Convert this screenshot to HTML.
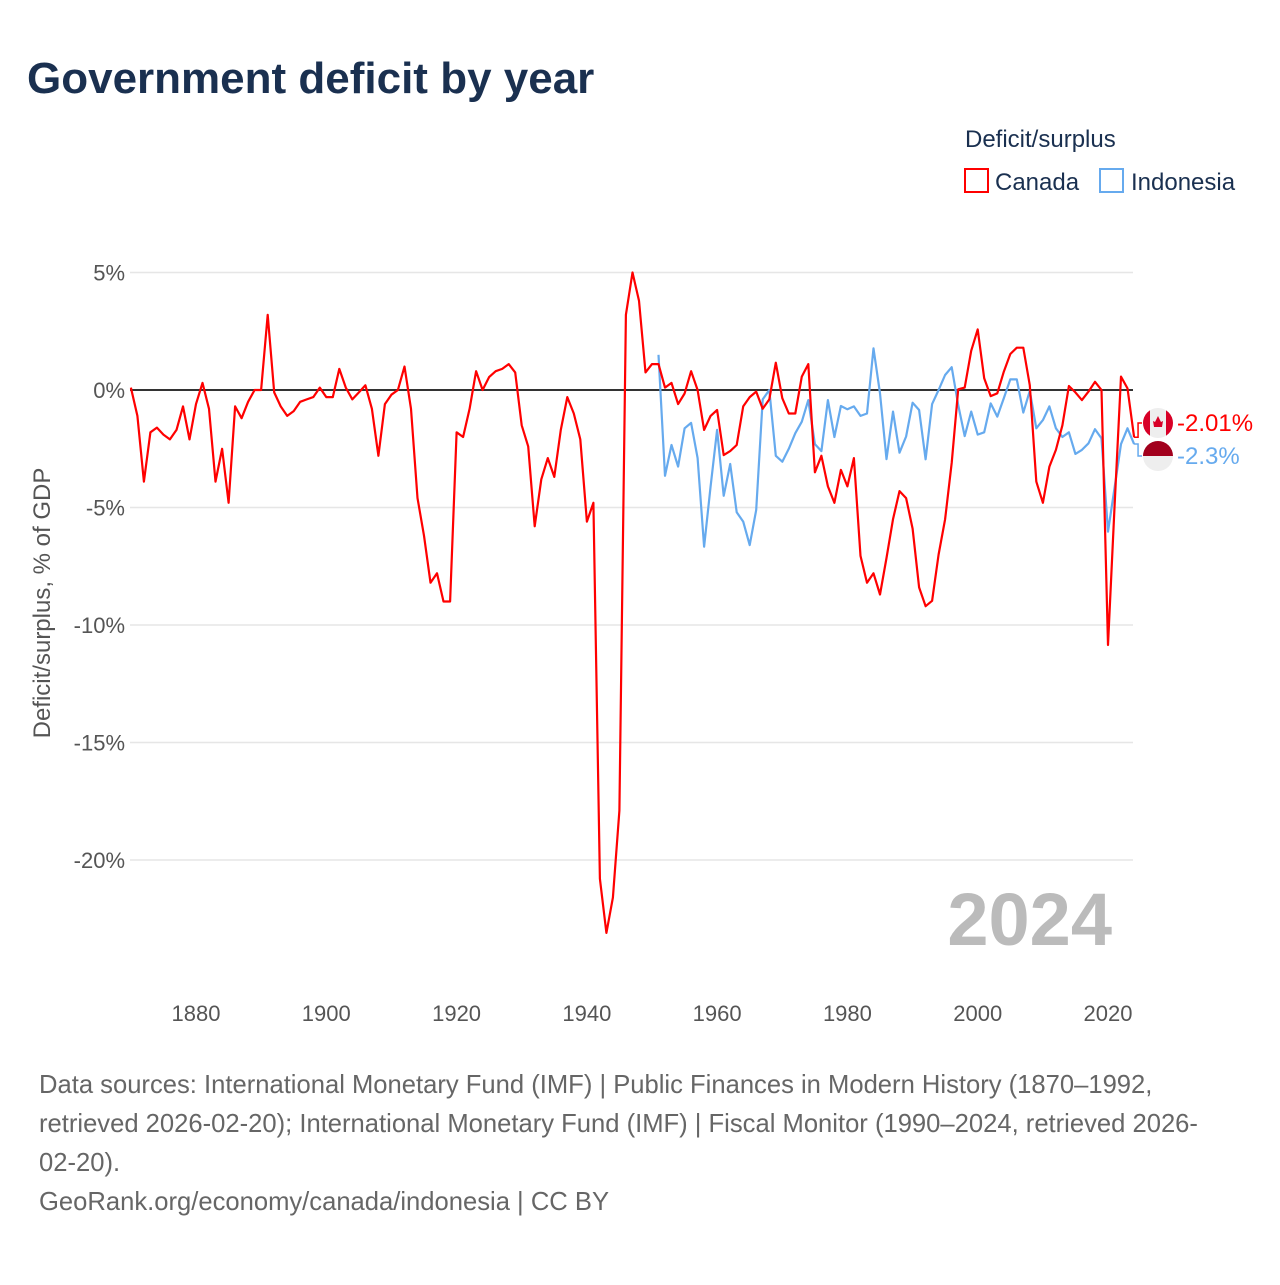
<!DOCTYPE html>
<html><head><meta charset="utf-8"><style>
body{margin:0;background:#fff;font-family:"Liberation Sans",sans-serif}
svg text{font-family:"Liberation Sans",sans-serif}
</style></head><body>
<svg width="1280" height="1280" viewBox="0 0 1280 1280">
<text x="27" y="93" font-size="44" font-weight="bold" fill="#1a3050">Government deficit by year</text>
<g>
<text x="965" y="147" font-size="24" fill="#1a3050">Deficit/surplus</text>
<g><rect x="965" y="169" width="23" height="23" fill="none" stroke="#ff0000" stroke-width="2"/><text x="995" y="190" font-size="24" fill="#1a3050">Canada</text></g>
<g><rect x="1100" y="169" width="23" height="23" fill="none" stroke="#66aaee" stroke-width="2"/><text x="1131" y="190" font-size="24" fill="#1a3050">Indonesia</text></g>
</g>
<g id="grid"></g>
<g id="yticks"></g>
<g id="xticks"></g>
<text transform="translate(50,603) rotate(-90)" text-anchor="middle" font-size="24" fill="#555">Deficit/surplus, % of GDP</text>
<text x="1112" y="945" text-anchor="end" font-size="74" font-weight="bold" fill="#bbb">2024</text>
<g id="series"></g>
<g id="labels"></g>
<g font-size="25.6" fill="#666">
<text x="39" y="1093">Data sources: International Monetary Fund (IMF) | Public Finances in Modern History (1870–1992,</text>
<text x="39" y="1132">retrieved 2026-02-20); International Monetary Fund (IMF) | Fiscal Monitor (1990–2024, retrieved 2026-</text>
<text x="39" y="1171">02-20).</text>
<text x="39" y="1210">GeoRank.org/economy/canada/indonesia | CC BY</text>
</g>
</svg>
<script>
const canadaStart = 1870;
const canadaValues = [0.1,-1.1,-3.9,-1.8,-1.6,-1.9,-2.1,-1.7,-0.7,-2.1,
-0.6,0.3,-0.8,-3.9,-2.5,-4.8,-0.7,-1.2,-0.5,0,
0,3.2,-0.1,-0.7,-1.1,-0.9,-0.5,-0.4,-0.3,0.1,
-0.3,-0.3,0.9,0.1,-0.4,-0.1,0.2,-0.8,-2.8,-0.6,
-0.2,0,1.0,-0.8,-4.6,-6.2,-8.2,-7.8,-9.0,-9.0,
-1.8,-2.0,-0.8,0.8,0,0.55,0.8,0.9,1.1,0.75,
-1.5,-2.4,-5.8,-3.8,-2.9,-3.7,-1.7,-0.3,-1.0,-2.1,
-5.6,-4.8,-20.8,-23.1,-21.6,-17.9,3.2,5.0,3.8,0.75,
1.1,1.1,0.1,0.3,-0.6,-0.15,0.8,0,-1.7,-1.1,
-0.85,-2.77,-2.6,-2.34,-0.7,-0.3,-0.07,-0.8,-0.4,1.16,
-0.35,-1.0,-1.0,0.57,1.1,-3.5,-2.8,-4.1,-4.8,-3.4,
-4.1,-2.9,-7.06,-8.2,-7.8,-8.7,-7.15,-5.5,-4.3,-4.6,
-5.9,-8.4,-9.2,-8.97,-7.0,-5.5,-3.1,0.03,0.1,1.67,
2.58,0.5,-0.26,-0.14,0.78,1.53,1.8,1.8,0.2,-3.9,
-4.8,-3.26,-2.55,-1.5,0.17,-0.1,-0.43,-0.07,0.35,0,
-10.85,-5,0.57,0.07,-2.01];
const indonesiaStart = 1951;
const indonesiaValues = [1.5,-3.65,-2.34,-3.26,-1.63,-1.4,-2.9,-6.67,-4.1,
-1.7,-4.5,-3.15,-5.2,-5.6,-6.6,-5.1,-0.4,0,-2.8,
-3.05,-2.5,-1.84,-1.35,-0.43,-2.3,-2.6,-0.43,-2.0,-0.68,
-0.82,-0.7,-1.1,-1.0,1.77,-0.14,-2.94,-0.92,-2.67,-1.98,
-0.54,-0.85,-2.95,-0.6,0,0.64,0.97,-0.64,-1.96,-0.92,
-1.9,-1.8,-0.57,-1.13,-0.35,0.45,0.45,-0.96,-0.04,-1.63,
-1.28,-0.7,-1.63,-2.0,-1.8,-2.72,-2.55,-2.27,-1.67,-2.06,
-6.03,-4.18,-2.3,-1.63,-2.3];
const yTicks = [5,0,-5,-10,-15,-20];
const xTicks = [1880,1900,1920,1940,1960,1980,2000,2020];
const endLabels = ["-2.01%","-2.3%"];

const NS="http://www.w3.org/2000/svg";
const X0=130,X1=1133;
function xs(yr){return 196+(yr-1880)*(912/140);}
function ys(v){return 390-v*23.5;}
function mk(t,a,p){const e=document.createElementNS(NS,t);for(const k in a)e.setAttribute(k,a[k]);p.appendChild(e);return e;}
const grid=document.getElementById('grid'),yt=document.getElementById('yticks'),xt=document.getElementById('xticks');
yTicks.forEach(v=>{
 if(v!==0){const l=mk('line',{x1:X0,x2:X1,y1:ys(v),y2:ys(v),stroke:'#e6e6e6','stroke-width':1.5},grid);
 
 }
 const t=mk('text',{x:125,y:ys(v)+8,'text-anchor':'end','font-size':22,fill:'#555'},yt);
 t.textContent=v+'%';
 
 
});
xTicks.forEach(yr=>{
 const t=mk('text',{x:xs(yr),y:1021,'text-anchor':'middle','font-size':22,fill:'#555'},xt);
 t.textContent=yr;
 
 
});
const zl=mk('line',{x1:X0,x2:X1,y1:ys(0),y2:ys(0),stroke:'#333','stroke-width':2},grid);


const ser=document.getElementById('series');
function line(start,vals,col,name){
 const d=vals.map((v,i)=>(i?'L':'M')+xs(start+i).toFixed(1)+','+ys(v).toFixed(1)).join('');
 const p=mk('path',{d:d,fill:'none',stroke:col,'stroke-width':2.2,'stroke-linejoin':'round'},ser);
 
 
}
line(indonesiaStart,indonesiaValues,'#66aaee','indonesia-line');
line(canadaStart,canadaValues,'#ff0000','canada-line');
const lab=document.getElementById('labels');
const cEnd=ys(canadaValues[canadaValues.length-1]),iEnd=ys(indonesiaValues[indonesiaValues.length-1]);
const lx=xs(2024);
mk('path',{d:`M${lx},${cEnd}L${lx+4},${cEnd}L${lx+4},423L1142,423`,fill:'none',stroke:'#ff0000','stroke-width':1.5},lab);
mk('path',{d:`M${lx},${iEnd}L${lx+4},${iEnd}L${lx+4},456L1142,456`,fill:'none',stroke:'#66aaee','stroke-width':1.5},lab);
const cf=mk('g',{},lab);


mk('clipPath',{id:'cc'},cf);
mk('circle',{cx:1158,cy:423,r:15},document.getElementById('cc'));
const cg=mk('g',{'clip-path':'url(#cc)'},cf);
mk('rect',{x:1143,y:408,width:30,height:30,fill:'#eee'},cg);
mk('rect',{x:1143,y:408,width:7,height:30,fill:'#d80027'},cg);
mk('rect',{x:1166,y:408,width:7,height:30,fill:'#d80027'},cg);
mk('path',{d:'M1158,416 L1161,422 L1163,421 L1162,427 L1154,427 L1153,421 L1155,422 Z',fill:'#d80027'},cg);
const inf=mk('g',{},lab);


mk('path',{d:'M1143,456 A15,15 0 0 1 1173,456 Z',fill:'#a2001d'},inf);
mk('path',{d:'M1143,456 A15,15 0 0 0 1173,456 Z',fill:'#eee'},inf);
const t1=mk('text',{x:1177,y:431,'font-size':24,fill:'#ff0000'},lab);
t1.textContent=endLabels[0];


const t2=mk('text',{x:1177,y:464,'font-size':24,fill:'#66aaee'},lab);
t2.textContent=endLabels[1];


</script>
</body></html>
